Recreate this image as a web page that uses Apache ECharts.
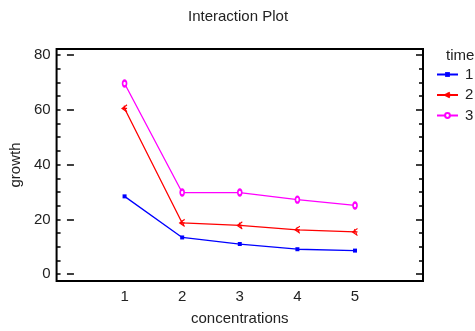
<!DOCTYPE html>
<html>
<head>
<meta charset="utf-8">
<script src="https://cdn.jsdelivr.net/npm/echarts@6/dist/echarts.min.js"></script>
<style>
  html, body { margin: 0; padding: 0; background: #fff; }
  #chart { width: 475px; height: 331px; }
</style>
</head>
<body>
<div id="chart"></div>
<script>
// concentration levels on x
const concentrations = [1, 2, 3, 4, 5];
// growth per time level
const time1 = [28.4, 13.4, 11.0, 9.1, 8.6];
const time2 = [60.5, 18.7, 17.8, 16.2, 15.4];
const time3 = [69.6, 29.8, 29.8, 27.2, 25.1];
const timeNames = ["1", "2", "3"];
const yLabelTicks = [0, 20, 40, 60, 80];
const yMinorTicks = [0, 5, 10, 15, 20, 25, 30, 35, 40, 45, 50, 55, 60, 65, 70, 75, 80];

const font = "Liberation Sans";
const yMin = -2.5, yMax = 82.2;

function pairs(vals) {
  return concentrations.map((c, i) => [c, vals[i]]);
}

// y axis helper: left/right, major/minor ticks
function yAxis(position, major) {
  return {
    type: "value",
    position: position,
    min: yMin,
    max: yMax,
    name: position === "left" && major ? "growth" : "",
    nameLocation: "middle",
    nameGap: 32,
    nameTextStyle: { fontFamily: font, fontSize: 15, color: "#222" },
    axisLine: { show: false },
    splitLine: { show: false },
    axisTick: {
      show: true,
      inside: true,
      length: major ? 7 : 4,
      customValues: major ? yLabelTicks : yMinorTicks,
      lineStyle: { color: "#000", width: 1.5 },
    },
    axisLabel: {
      show: position === "left" && major,
      customValues: yLabelTicks,
      margin: 6,
      fontFamily: font,
      fontSize: 15,
      color: "#222",
    },
  };
}

const chart = echarts.init(document.getElementById("chart"));
// open "<" with a cross stroke, drawn as outline only
const symbolRed = "path://M8,0L0,5L8,10M0,5L8,5M3,1L7,9";

const option = {
  animation: false,
  title: [
    {
      text: "Interaction Plot",
      left: 188,
      top: 9,
      padding: 0,
      textStyle: { fontFamily: font, fontSize: 15, fontWeight: "normal", color: "#222" },
    },
    {
      text: "time",
      left: 446,
      top: 48,
      padding: 0,
      textStyle: { fontFamily: font, fontSize: 15, fontWeight: "normal", color: "#222" },
    },
  ],
  legend: {
    orient: "vertical",
    left: 436,
    top: 67,
    padding: 0,
    itemWidth: 21,
    itemHeight: 6,
    itemGap: 5.5,
    textStyle: { fontFamily: font, fontSize: 15, color: "#222", padding: [0, 0, 0, 2] },
    data: timeNames,
  },
  grid: {
    left: 56,
    right: 52,
    top: 49,
    bottom: 47,
    show: true,
    borderColor: "#000",
    borderWidth: 2,
  },
  xAxis: {
    type: "value",
    min: -0.18,
    max: 6.18,
    name: "concentrations",
    nameLocation: "middle",
    nameGap: 30,
    nameTextStyle: { fontFamily: font, fontSize: 15, color: "#222" },
    axisLine: { show: false },
    axisTick: { show: false },
    splitLine: { show: false },
    axisLabel: {
      customValues: concentrations,
      margin: 8,
      fontFamily: font,
      fontSize: 15,
      color: "#222",
    },
  },
  yAxis: [yAxis("left", true), yAxis("left", false), yAxis("right", true), yAxis("right", false)],
  series: [
    {
      name: timeNames[0],
      type: "line",
      data: pairs(time1),
      symbol: "rect",
      symbolSize: 4,
      color: "#0000ff",
      lineStyle: { width: 1.3 },
    },
    {
      name: timeNames[1],
      type: "line",
      data: pairs(time2),
      symbol: symbolRed,
      symbolSize: [5, 7],
      color: "#ff0000",
      itemStyle: { color: "rgba(0,0,0,0)", borderColor: "#ff0000", borderWidth: 1.1 },
      lineStyle: { width: 1.3, color: "#ff0000" },
    },
    {
      name: timeNames[2],
      type: "line",
      data: pairs(time3),
      symbol: "emptyCircle",
      symbolSize: [4, 6],
      color: "#ff00ff",
      itemStyle: { borderWidth: 1.2 },
      lineStyle: { width: 1.3 },
    },
  ],
};

chart.setOption(option);
</script>
</body>
</html>
